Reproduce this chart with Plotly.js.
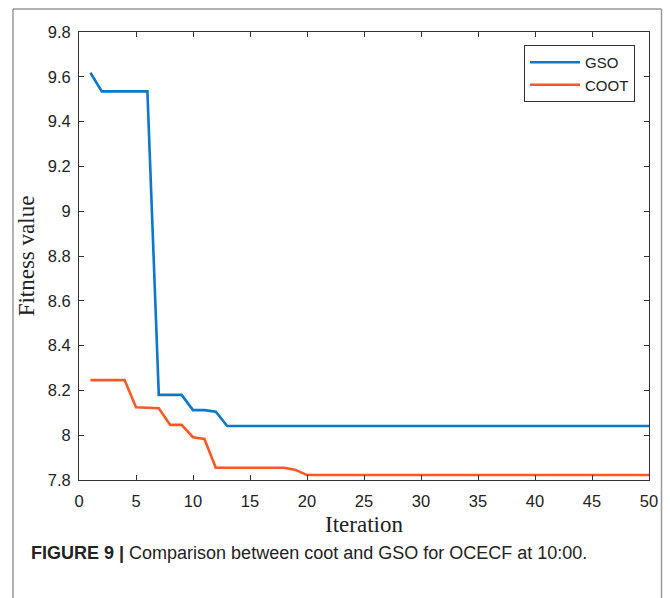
<!DOCTYPE html>
<html>
<head>
<meta charset="utf-8">
<script src="https://cdn.plot.ly/plotly-3.0.1.min.js"></script>
<style>
html,body{margin:0;padding:0;background:#fff;}
#chart{width:670px;height:598px;}
</style>
</head>
<body>
<div id="chart"></div>
<script>
// Data
const iterations = [1,2,3,4,5,6,7,8,9,10,11,12,13,14,15,16,17,18,19,20,21,22,23,24,25,26,27,28,29,30,31,32,33,34,35,36,37,38,39,40,41,42,43,44,45,46,47,48,49,50];
const gso = [9.618,9.535,9.535,9.535,9.535,9.535,8.180,8.180,8.180,8.112,8.112,8.105,8.041,8.041,8.041,8.041,8.041,8.041,8.041,8.041,8.041,8.041,8.041,8.041,8.041,8.041,8.041,8.041,8.041,8.041,8.041,8.041,8.041,8.041,8.041,8.041,8.041,8.041,8.041,8.041,8.041,8.041,8.041,8.041,8.041,8.041,8.041,8.041,8.041,8.041];
const coot = [8.246,8.246,8.246,8.246,8.125,8.124,8.120,8.046,8.046,7.991,7.983,7.855,7.855,7.855,7.855,7.855,7.855,7.855,7.845,7.822,7.822,7.822,7.822,7.822,7.822,7.822,7.822,7.822,7.822,7.822,7.822,7.822,7.822,7.822,7.822,7.822,7.822,7.822,7.822,7.822,7.822,7.822,7.822,7.822,7.822,7.822,7.822,7.822,7.822,7.822];
const xTickVals = [0,5,10,15,20,25,30,35,40,45,50];
const yTickVals = [7.8,8,8.2,8.4,8.6,8.8,9,9.2,9.4,9.6,9.8];
const yTickText = ['7.8','8','8.2','8.4','8.6','8.8','9','9.2','9.4','9.6','9.8'];
const seriesNames = ['GSO','COOT'];
const xTitle = 'Iteration';
const yTitle = 'Fitness value';
const captionBold = 'FIGURE 9 |';
const captionText = ' Comparison between coot and GSO for OCECF at 10:00.';

const L = 79, R = 21, T = 32, B = 118;
const W = 670 - L - R, H = 598 - T - B;
const px = x => (x - L) / W;
const py = y => (598 - B - y) / H;

const traces = [
  {x: iterations, y: gso, name: seriesNames[0], type: 'scatter', mode: 'lines',
   line: {color: '#0A78CC', width: 2.6}},
  {x: iterations, y: coot, name: seriesNames[1], type: 'scatter', mode: 'lines',
   line: {color: '#FF5722', width: 2.6}}
];

const tickFont = {family: '"Liberation Sans", Arial, sans-serif', size: 16.5, color: '#222'};
const titleFont = {family: '"Liberation Serif", "Times New Roman", serif', size: 23, color: '#222'};

const layout = {
  width: 670, height: 598,
  margin: {l: L, r: R, t: T, b: B},
  paper_bgcolor: '#fff', plot_bgcolor: '#fff',
  showlegend: true,
  xaxis: {
    range: [0, 50], tickvals: xTickVals, ticks: 'inside', ticklen: 5, tickwidth: 1,
    tickcolor: '#333', showline: true, linecolor: '#333', linewidth: 1, mirror: 'ticks',
    showgrid: false, zeroline: false, tickfont: tickFont, ticklabelstandoff: 6,
    title: {text: xTitle, font: titleFont, standoff: 7}, automargin: false
  },
  yaxis: {
    range: [7.8, 9.8], tickvals: yTickVals, ticktext: yTickText, ticks: 'inside', ticklen: 5, tickwidth: 1,
    tickcolor: '#333', showline: true, linecolor: '#333', linewidth: 1, mirror: 'ticks',
    showgrid: false, zeroline: false, tickfont: tickFont, ticklabelstandoff: 4,
    title: {text: yTitle, font: titleFont, standoff: 6}, automargin: false
  },
  legend: {
    x: px(635), y: py(45), xanchor: 'right', yanchor: 'top',
    bordercolor: '#333', borderwidth: 1, bgcolor: '#fff',
    font: {family: '"Liberation Sans", Arial, sans-serif', size: 15, color: '#222'},
    tracegroupgap: 0, itemwidth: 50
  },
  shapes: [
    {type: 'line', xref: 'paper', yref: 'paper', x0: px(13), x1: px(13), y0: py(9), y1: py(600), line: {color: '#999', width: 1.5}},
    {type: 'line', xref: 'paper', yref: 'paper', x0: px(13), x1: px(661.5), y0: py(9), y1: py(9), line: {color: '#999', width: 1.5}},
    {type: 'line', xref: 'paper', yref: 'paper', x0: px(661.5), x1: px(661.5), y0: py(9), y1: py(600), line: {color: '#999', width: 1.5}}
  ],
  annotations: [
    {xref: 'paper', yref: 'paper', x: px(29), y: py(553), xanchor: 'left', yanchor: 'middle', showarrow: false,
     text: '<b>' + captionBold + '</b>' + captionText,
     font: {family: '"Liberation Sans", Arial, sans-serif', size: 18, color: '#222'}}
  ]
};

Plotly.newPlot('chart', traces, layout, {displayModeBar: false, staticPlot: true});
</script>
</body>
</html>
